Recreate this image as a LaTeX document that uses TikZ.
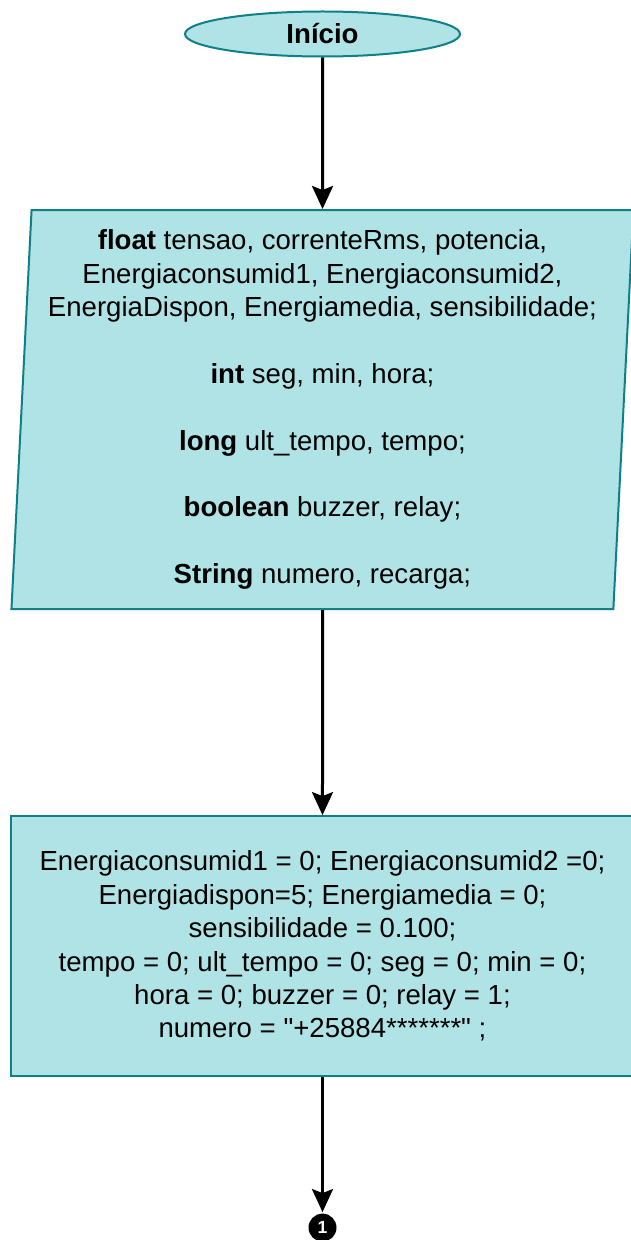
\documentclass[tikz,border=0pt]{standalone}
\usepackage{fontspec}
\setmainfont{Liberation Sans}
\usepackage{tikz}
\usetikzlibrary{positioning,shapes.geometric,arrows.meta}
\definecolor{boxfill}{HTML}{B0E3E6}
\definecolor{boxline}{HTML}{0E8088}

\begin{document}
\begin{tikzpicture}[->,>={Stealth[length=0.46cm,width=0.42cm,inset=0.08cm]},line width=0.06cm,
      node distance=2cm,
      every node/.style={font=\fontsize{15.7}{19}\selectfont},
      term node/.style={ellipse,draw=boxline,fill=boxfill,line width=0.04cm,
        minimum width=5.5cm,minimum height=0.9cm,inner sep=0pt,font=\fontsize{15.7}{19}\selectfont\bfseries},
      io node/.style={trapezium,trapezium left angle=86.8,trapezium right angle=93.2,
        trapezium stretches body,draw=boxline,fill=boxfill,line width=0.04cm,
        minimum width=12.44cm,minimum height=7.98cm,align=center,inner sep=0pt},
      proc node/.style={rectangle,draw=boxline,fill=boxfill,line width=0.04cm,
        minimum width=12.44cm,minimum height=5.2cm,align=center,inner sep=0pt},
      link node/.style={circle,fill=black,minimum size=0.56cm,inner sep=0pt,
        text=white,font=\fontsize{10}{11}\selectfont\bfseries}]
      \useasboundingbox (0,0) rectangle (12.62,-24.8);

      \node[term node] (inicio) at (6.45,-0.68) {Início};
      \node[io node] (decl) [below=3.03cm of inicio] {%
        \textbf{float} tensao, correnteRms, potencia,\\
        Energiaconsumid1, Energiaconsumid2,\\
        EnergiaDispon, Energiamedia, sensibilidade;\\[19pt]
        \textbf{int} seg, min, hora;\\[19pt]
        \textbf{long} ult\_tempo, tempo;\\[19pt]
        \textbf{boolean} buzzer, relay;\\[19pt]
        \textbf{String} numero, recarga;};
      \node[proc node] (init) [below=4.1cm of decl] {%
        Energiaconsumid1 = 0; Energiaconsumid2 =0;\\
        Energiadispon=5; Energiamedia = 0;\\
        sensibilidade = 0.100;\\
        tempo = 0; ult\_tempo = 0; seg = 0; min = 0;\\
        hora = 0; buzzer = 0; relay = 1;\\
        numero = \textquotedbl+25884*******\textquotedbl\ ;};
      \node[link node] (con1) [below=2.7cm of init] {1};

      \path[->]
        (inicio) edge (decl)
        (decl) edge (init)
        (init) edge (con1);
\end{tikzpicture}
\end{document}
